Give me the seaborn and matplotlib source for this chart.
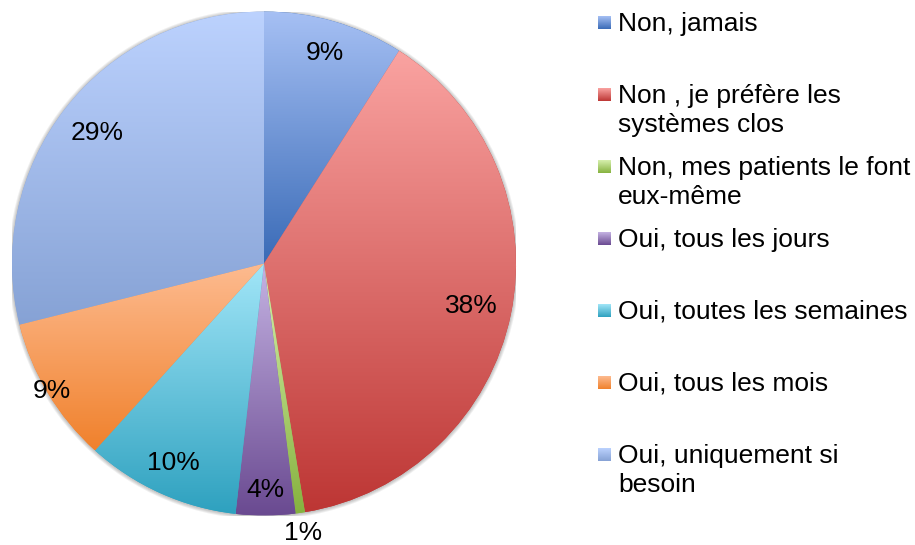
import numpy as np
import matplotlib
matplotlib.use("Agg")
import matplotlib.pyplot as plt
from matplotlib.patches import Circle
import seaborn as sns

# --- Data ---
CATEGORIES = [
    "Non, jamais",
    "Non , je préfère les\nsystèmes clos",
    "Non, mes patients le font\neux-même",
    "Oui, tous les jours",
    "Oui, toutes les semaines",
    "Oui, tous les mois",
    "Oui, uniquement si\nbesoin",
]
SHARES = [9.0, 38.4, 0.6, 3.8, 9.9, 9.4, 28.9]

# gradient ends for each slice (top -> bottom), Excel 2007 look
LIGHT = ["#a6c0f4", "#faa3a1", "#d7f0ae", "#c5b3e3", "#a2e6f8", "#fdbb90", "#bcd2fe"]
DARK = ["#3a6bb7", "#bd3634", "#86b23f", "#6a4a91", "#2ea1bf", "#f0812c", "#86a2d5"]

# radial position of each percentage label (fraction of radius)
LABEL_R = [0.87, 0.84, 1.08, 0.90, 0.87, 0.98, 0.84]

W, H = 915, 545
FONT = 19

sns.set_theme(style="white")
plt.rcParams["font.family"] = ["Liberation Sans", "DejaVu Sans"]

fig = plt.figure(figsize=(W / 100, H / 100), dpi=100)
fig.patch.set_facecolor("white")

# pie axes: centre (264, 263.5), radius 252 px
cx, cy, r = 264, 263.5, 252
ax = fig.add_axes([(cx - r) / W, 1 - (cy + r) / H, 2 * r / W, 2 * r / H])
ax.axis("off")

# soft shadow round the pie
for k in range(1, 5):
    ax.add_patch(Circle((0, -0.002), 1 + k * 0.0035, color="#000000",
                        alpha=0.06, lw=0, zorder=0))

wedges, _ = ax.pie(SHARES, startangle=90, counterclock=False, radius=1.0,
                   colors=DARK, wedgeprops=dict(linewidth=0))

grad = np.linspace(0, 1, 256).reshape(-1, 1)
for w, lo, hi in zip(wedges, LIGHT, DARK):
    ext = w.get_path().get_extents()
    cmap = sns.blend_palette([lo, hi], as_cmap=True)
    im = ax.imshow(grad, cmap=cmap, extent=[ext.x0, ext.x1, ext.y0, ext.y1],
                   origin="upper", aspect="auto", zorder=2, interpolation="bilinear")
    im.set_clip_path(w)

# percentage labels
for w, share, rr in zip(wedges, SHARES, LABEL_R):
    mid = np.deg2rad((w.theta1 + w.theta2) / 2)
    ax.text(rr * np.cos(mid), rr * np.sin(mid), f"{round(share):d}%",
            ha="center", va="center", fontsize=FONT, color="black", zorder=5)

ax.set_xlim(-1, 1)
ax.set_ylim(-1, 1)
ax.set_aspect("equal")

# --- Legend (drawn by hand so markers sit on the first text line) ---
first_base, step, line_step = 30.7, 72.0, 29.0
for i, (label, lo, hi) in enumerate(zip(CATEGORIES, LIGHT, DARK)):
    base = first_base + i * step
    mk = 13
    mtop = base - 8 - mk / 2
    max_ = fig.add_axes([598 / W, 1 - (mtop + mk) / H, mk / W, mk / H])
    max_.imshow(grad, cmap=sns.blend_palette([lo, hi], as_cmap=True),
                aspect="auto", origin="upper")
    max_.axis("off")
    for j, line in enumerate(label.split("\n")):
        fig.text(618 / W, 1 - (base + j * line_step) / H, line,
                 fontsize=FONT, va="baseline", ha="left", color="black")

fig.savefig("out.png", dpi=100, facecolor="white")
